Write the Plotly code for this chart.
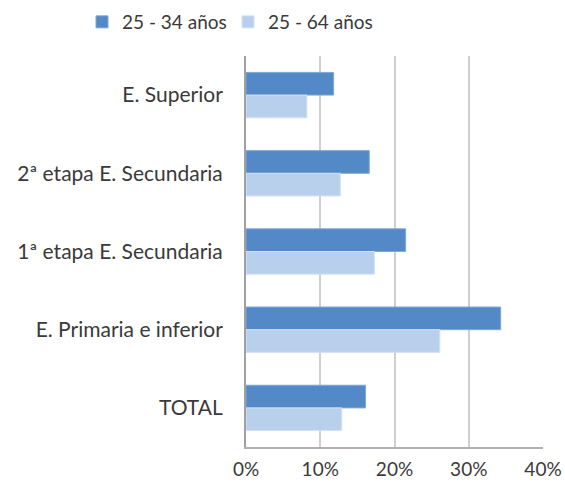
import plotly.graph_objects as go

categorias = ["E. Superior", "2ª etapa E. Secundaria", "1ª etapa E. Secundaria",
              "E. Primaria e inferior", "TOTAL"]
serie_25_34 = [0.118, 0.166, 0.215, 0.343, 0.161]
serie_25_64 = [0.082, 0.127, 0.173, 0.261, 0.129]
ticks_x = [0, 0.1, 0.2, 0.3, 0.4]
ticks_txt = ["0%", "10%", "20%", "30%", "40%"]

fig = go.Figure()

fig.add_trace(go.Bar(
    y=categorias, x=serie_25_34, orientation='h', name="25 - 34 años",
    marker=dict(color='#5389C7', line=dict(color='#7FA8D8', width=1))
))
fig.add_trace(go.Bar(
    y=categorias, x=serie_25_64, orientation='h', name="25 - 64 años",
    marker=dict(color='#B9D0EC', line=dict(color='#D3E2F4', width=1))
))

fig.update_layout(
    width=565, height=489,
    barmode='group', bargap=0.42, bargroupgap=0,
    plot_bgcolor='white', paper_bgcolor='white',
    font=dict(family="Lato", size=19, color='#3A3A3A'),
    margin=dict(l=246, r=22, t=56, b=42),
    legend=dict(orientation='h', xref='container', x=82 / 565, xanchor='left',
                yref='container', y=0.955, yanchor='middle',
                font=dict(size=19), traceorder='normal', itemwidth=30,
                entrywidth=101),
    xaxis=dict(range=[0, 0.4], tickvals=ticks_x, ticktext=ticks_txt,
               showgrid=True, gridcolor='#CFCFCF', gridwidth=1.5,
               showline=True, linecolor='#B0B0B0', linewidth=1.5,
               zeroline=False, tickfont=dict(size=19), fixedrange=True,
               ticklabelstandoff=4, automargin=False),
    yaxis=dict(autorange='reversed', showline=True, linecolor='#A0A0A0',
               linewidth=2, ticks='', ticklabelstandoff=17,
               tickfont=dict(size=21), automargin=False, fixedrange=True),
)

# sin margen en el body para que la figura ocupe toda la ventana
fig.write_html("out.html", config={'displayModeBar': False},
               post_script="document.body.style.margin='0';")
